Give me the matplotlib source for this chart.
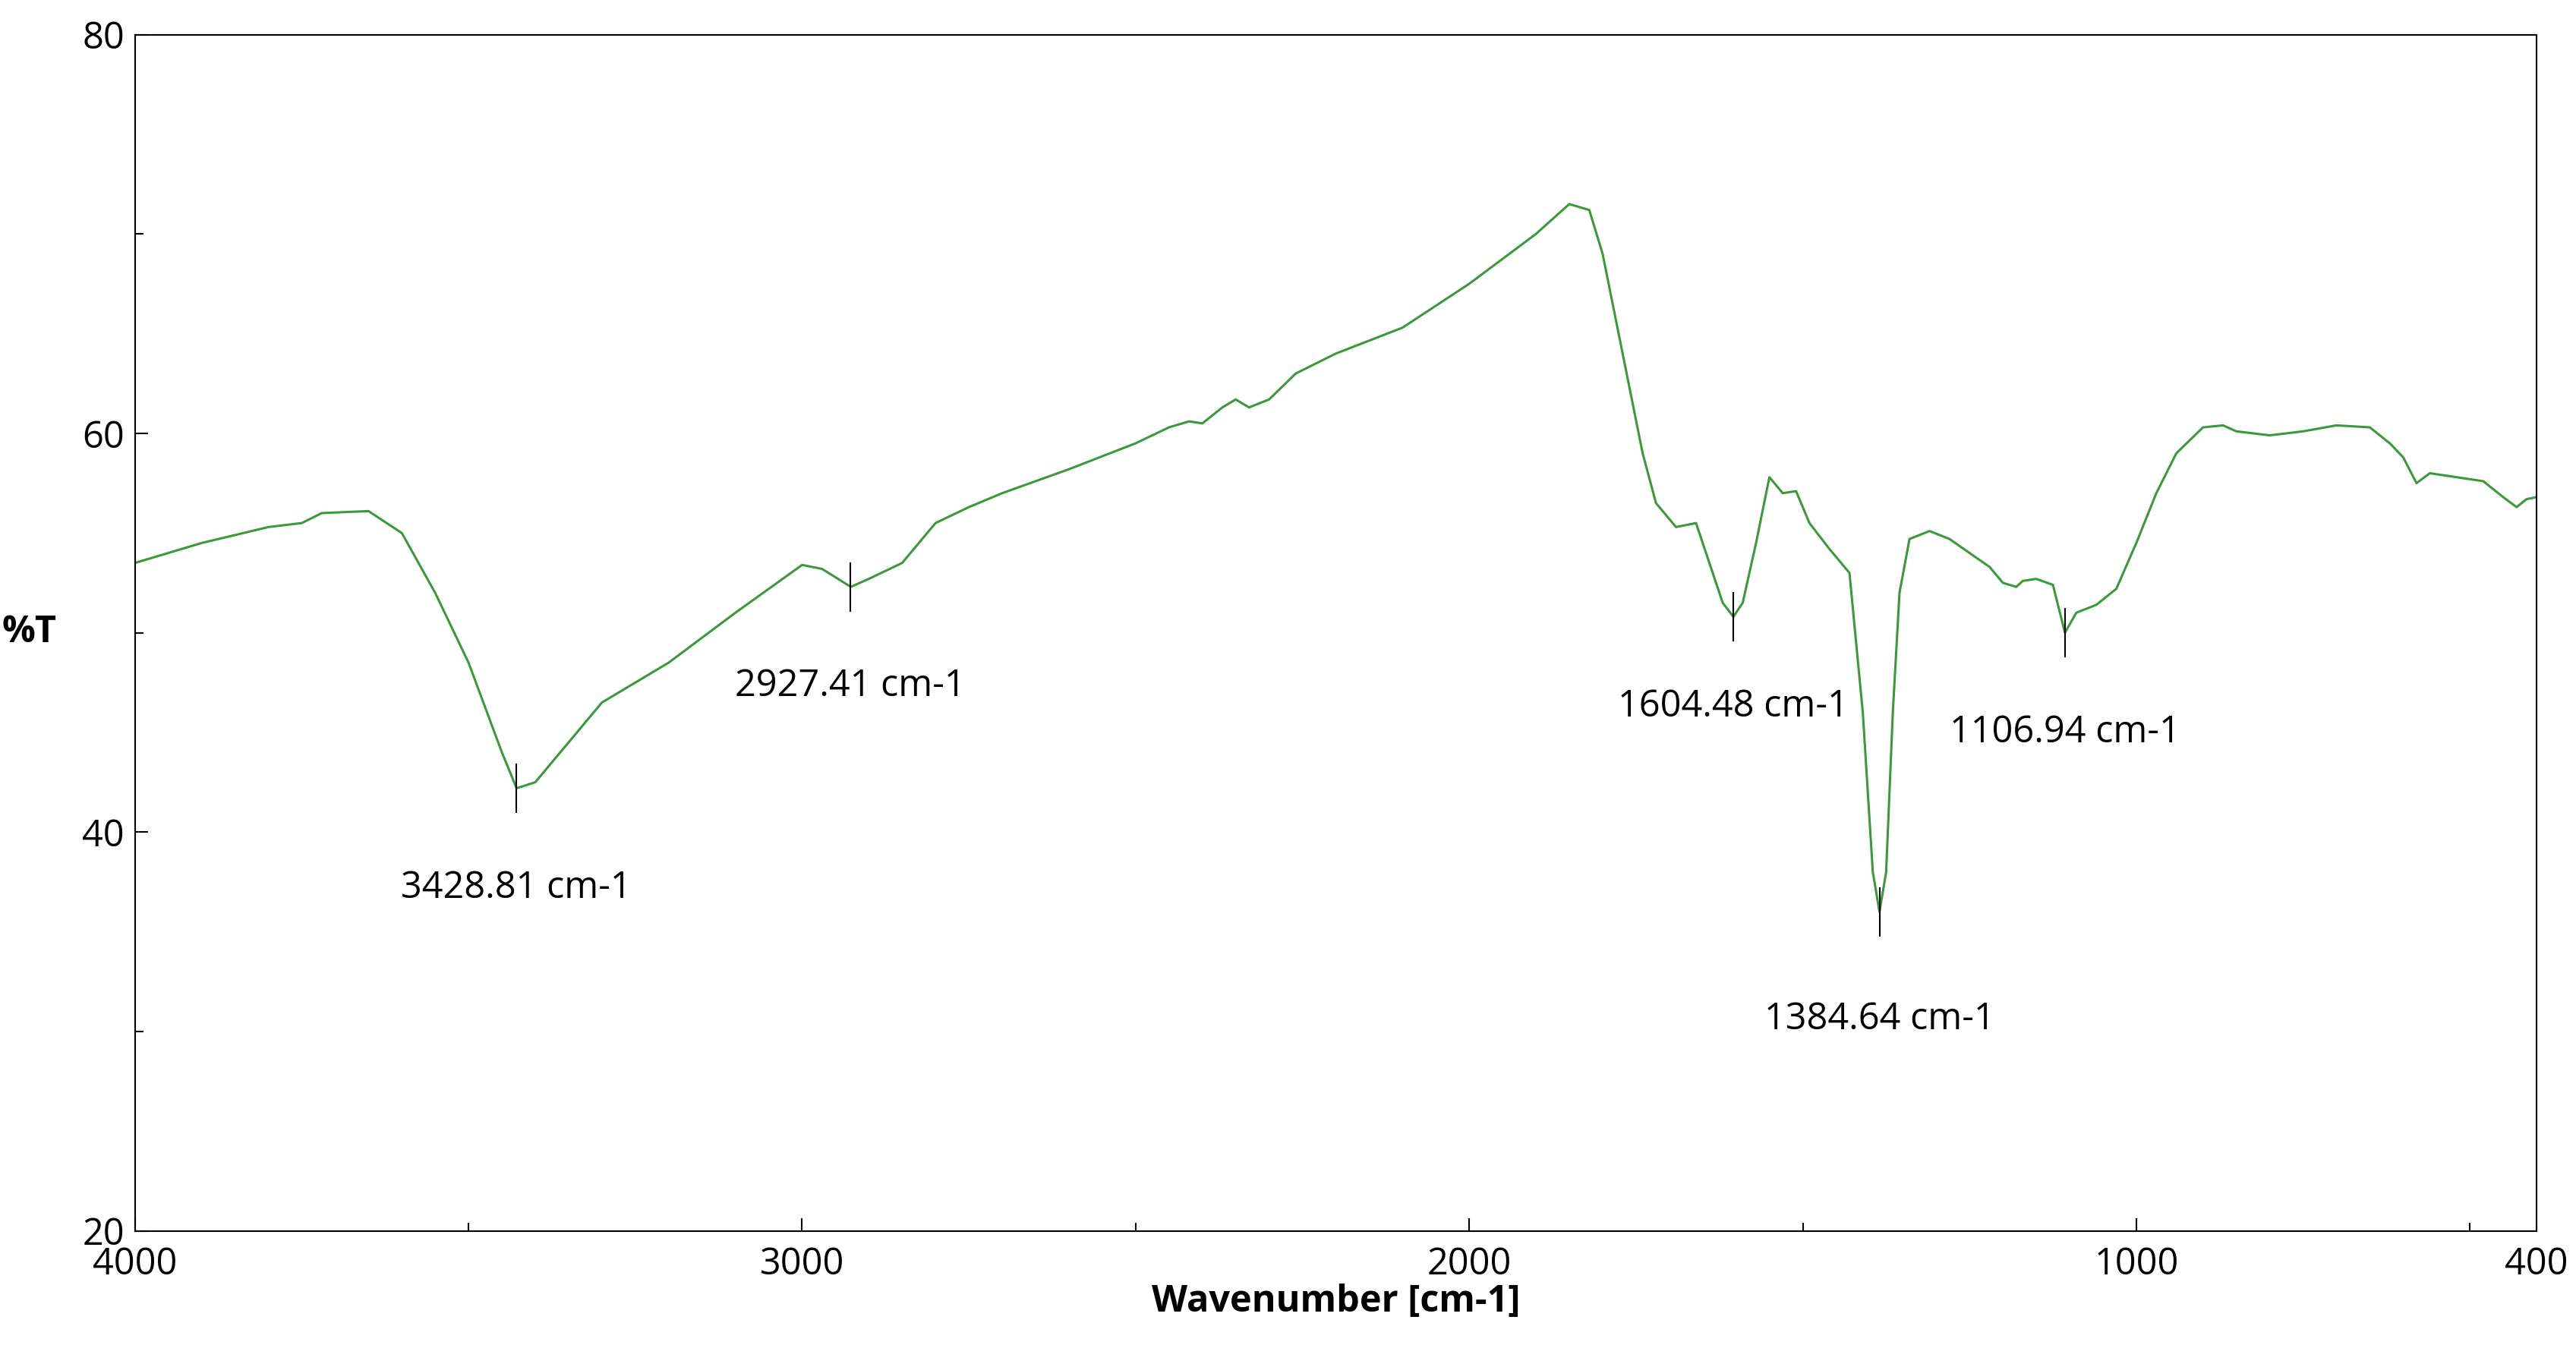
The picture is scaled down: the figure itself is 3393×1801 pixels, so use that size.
import matplotlib
matplotlib.use("Agg")
import matplotlib.pyplot as plt
from matplotlib.ticker import MultipleLocator, FixedLocator

wavenumber = [4000,3900,3800,3750,3720,3650,3600,3550,3500,3450,3428,3400,3350,3300,3250,3200,3100,3000,2970,2927,2900,2850,2800,2750,2700,2600,2500,2450,2420,2400,2370,2350,2330,2300,2260,2200,2100,2000,1900,1850,1820,1800,1770,1740,1720,1690,1660,1640,1620,1604,1590,1570,1550,1530,1510,1490,1460,1430,1410,1395,1385,1375,1365,1355,1340,1310,1280,1250,1220,1200,1180,1170,1150,1125,1107,1090,1060,1030,1000,970,940,900,870,850,800,750,700,650,620,600,580,560,520,480,450,430,415,400]
transmittance = [53.5,54.5,55.3,55.5,56.0,56.1,55.0,52.0,48.5,44.0,42.2,42.5,44.5,46.5,47.5,48.5,51.0,53.4,53.2,52.3,52.7,53.5,55.5,56.3,57.0,58.2,59.5,60.3,60.6,60.5,61.3,61.7,61.3,61.7,63.0,64.0,65.3,67.5,70.0,71.5,71.2,69.0,64.0,59.0,56.5,55.3,55.5,53.5,51.5,50.8,51.5,54.5,57.8,57.0,57.1,55.5,54.2,53.0,46.0,38.0,36.0,38.0,46.0,52.0,54.7,55.1,54.7,54.0,53.3,52.5,52.3,52.6,52.7,52.4,50.0,51.0,51.4,52.2,54.5,57.0,59.0,60.3,60.4,60.1,59.9,60.1,60.4,60.3,59.5,58.8,57.5,58.0,57.8,57.6,56.8,56.3,56.7,56.8]

peak_pos = [3428.81, 2927.41, 1604.48, 1384.64, 1106.94]
peak_val = [42.2, 52.3, 50.8, 36.0, 50.0]
label_y = [37.2, 47.3, 46.3, 30.6, 45.0]

FS = 35
fig = plt.figure(figsize=(33.93, 18.01), dpi=100)
ax = fig.add_axes([0.0524, 0.0996, 0.9323, 0.8751])
ax.plot(wavenumber, transmittance, color="#3a9a3a", lw=2.2, solid_joinstyle="round")
for p, v, ly in zip(peak_pos, peak_val, label_y):
    ax.plot([p, p], [v - 1.2, v + 1.2], color="black", lw=1.5)
    ax.text(p, ly, f"{p:.2f} cm-1", ha="center", va="center", fontsize=FS, family="Open Sans")

ax.set_xlim(4000, 400)
ax.set_ylim(20, 80)
ax.xaxis.set_major_locator(FixedLocator([4000, 3000, 2000, 1000, 400]))
ax.xaxis.set_minor_locator(FixedLocator([3500, 2500, 1500, 500]))
ax.yaxis.set_major_locator(MultipleLocator(20))
ax.yaxis.set_minor_locator(MultipleLocator(10))
ax.tick_params(which="both", direction="in", labelsize=FS)
ax.tick_params(which="major", length=12, width=1.5)
ax.tick_params(which="minor", length=8, width=1.5)
ax.tick_params(axis="x", pad=14)
ax.tick_params(axis="y", pad=10)
for lab in ax.get_xticklabels() + ax.get_yticklabels():
    lab.set_family("Open Sans")
for s in ax.spines.values():
    s.set_linewidth(1.5)
ax.set_xlabel("Wavenumber [cm-1]", fontsize=FS, fontweight="bold", family="Open Sans", labelpad=0)
ax.set_ylabel("%T", fontsize=FS, fontweight="bold", family="Open Sans", rotation=0, labelpad=50, va="center")
fig.savefig("out.png", dpi=100)
